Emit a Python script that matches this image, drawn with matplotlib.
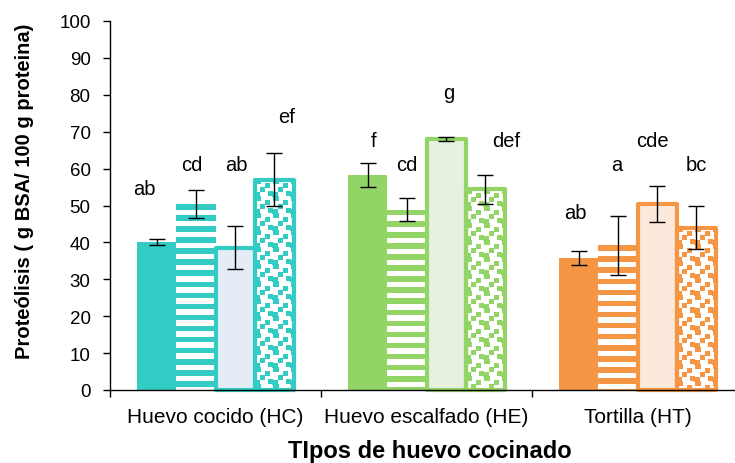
import numpy as np
import matplotlib
matplotlib.use("Agg")
import matplotlib.pyplot as plt

plt.rcParams['font.family'] = ['Liberation Sans', 'DejaVu Sans']

groups = ['Huevo cocido (HC)', 'Huevo escalfado (HE)', 'Tortilla (HT)']
hc_means = [40.2, 50.4, 38.6, 57.0]
he_means = [58.3, 48.8, 68.1, 54.4]
ht_means = [35.8, 39.2, 50.5, 44.0]
hc_sd = [0.8, 3.8, 5.8, 7.2]
he_sd = [3.2, 3.1, 0.5, 4.0]
ht_sd = [1.9, 7.9, 4.9, 5.9]
hc_letters = ['ab', 'cd', 'ab', 'ef']
he_letters = ['f', 'cd', 'g', 'def']
ht_letters = ['ab', 'a', 'cde', 'bc']

# layout for the letters (baseline in data units, x shift in pixels)
letter_y = [[53, 59.5, 59.5, 72.5], [66, 59.5, 79, 66], [46.5, 59.5, 66, 59.5]]
letter_dx = [[-13, -4, 1, 13], [6, 0, 3, 21], [-4, -1, -5, 0]]

colors = ['#33CCC4', '#92D466', '#F59644']
light = ['#E4ECF6', '#E7F1DF', '#FCE9DC']

means = [hc_means, he_means, ht_means]
sds = [hc_sd, he_sd, ht_sd]
letters = [hc_letters, he_letters, ht_letters]

W, H = 735, 464
fig = plt.figure(figsize=(W / 100, H / 100), dpi=100)
ax = fig.add_axes([110 / W, 73 / H, 633 / W, 369 / H])
ax.set_xlim(0, 3)
ax.set_ylim(0, 100)

bw = 0.185
px_per_x = 633 / 3.0

# confetti tile for the 4th bar
T = 17
tile = np.zeros((T, T), bool)
for r, c in [(0, 1), (4, 10), (8, 5), (12, 13), (13, 0)]:
    for dr in range(5):
        for dc in range(5):
            tile[(r + dr) % T, (c + dc) % T] = True


def to_rgb(c):
    return np.array(matplotlib.colors.to_rgb(c))


for g in range(3):
    col = colors[g]
    for i in range(4):
        x = g + 0.5 + (i - 1.5) * bw
        v = means[g][i]
        if i == 0:
            ax.bar(x, v, bw, color=col, zorder=1)
        elif i == 1:
            ax.bar(x, v, bw, color=col, zorder=1)
            for y0 in np.arange(v - 1.5, 0, -3.0):
                ax.bar(x, min(1.5, y0), bw, bottom=max(y0 - 1.5, 0),
                       color='white', zorder=1.1)
        elif i == 2:
            ax.bar(x, v, bw, color=light[g], edgecolor=col, linewidth=3,
                   joinstyle='round', zorder=1.2, clip_on=False)
        else:
            bars = ax.bar(x, v, bw, color='white', zorder=1)
            rect = bars[0]
            x0, x1 = x - bw / 2, x + bw / 2
            p0 = ax.transData.transform((x0, 0))
            p1 = ax.transData.transform((x1, v))
            nx = int(round(p1[0] - p0[0]))
            ny = int(round(p1[1] - p0[1]))
            yy, xx = np.mgrid[0:ny, 0:nx]
            mask = tile[yy % T, xx % T]
            img = np.ones((ny, nx, 3))
            img[mask] = to_rgb(col)
            im = ax.imshow(img, extent=(x0, x1, 0, v), origin='upper',
                           interpolation='nearest', aspect='auto', zorder=1.1)
            im.set_clip_path(rect)
            ax.bar(x, v, bw, fill=False, edgecolor=col, linewidth=3,
                   joinstyle='round', zorder=1.2, clip_on=False)
        ax.errorbar(x, v, yerr=sds[g][i], fmt='none', ecolor='black',
                    elinewidth=1, capsize=5.8, capthick=1, zorder=3)
        ax.text(x + letter_dx[g][i] / px_per_x, letter_y[g][i], letters[g][i],
                ha='center', va='baseline', fontsize=14.5)

ax.set_xlim(0, 3)
ax.set_ylim(0, 100)
ax.set_aspect('auto')

for s in ['top', 'right']:
    ax.spines[s].set_visible(False)
for s in ['left', 'bottom']:
    ax.spines[s].set_linewidth(1)
    ax.spines[s].set_zorder(2.5)

ax.set_yticks(np.arange(0, 101, 10))
ax.tick_params(axis='y', direction='out', length=5, width=1, labelsize=13.5, pad=9)
ax.set_xticks([0, 1, 2, 3])
ax.set_xticklabels([])
ax.tick_params(axis='x', which='major', direction='out', length=5, width=1)
ax.set_xticks([0.5, 1.5, 2.5], minor=True)
ax.set_xticklabels(groups, minor=True)
ax.tick_params(axis='x', which='minor', length=0, labelsize=15, pad=12)

fig.text(25 / W, 1 - 191 / H, 'Proteólisis ( g BSA/ 100 g proteina)',
         rotation=90, ha='center', va='center', fontsize=14.5, fontweight='bold')
fig.text(430 / W, 6 / H, 'TIpos de huevo cocinado', ha='center', va='baseline',
         fontsize=17, fontweight='bold')

fig.savefig('out.png', dpi=100)
